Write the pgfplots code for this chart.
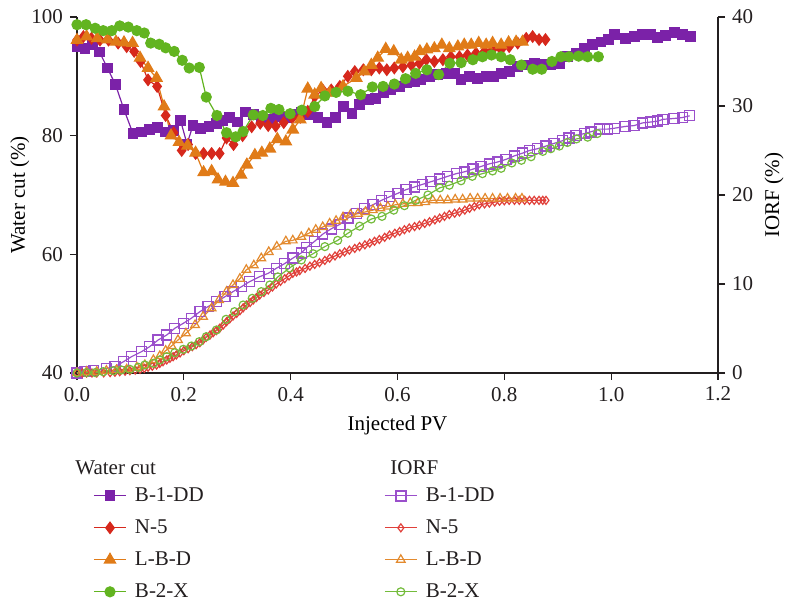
\documentclass[border=0pt]{standalone}
\usepackage{fontspec}
\setmainfont{Liberation Serif}
\usepackage{pgfplots}
\pgfplotsset{compat=1.18}
\definecolor{cpur}{HTML}{7B22A8}
\definecolor{cpurL}{HTML}{9A4FCB}
\definecolor{cred}{HTML}{D6281C}
\definecolor{credL}{HTML}{E0403A}
\definecolor{corg}{HTML}{E07B18}
\definecolor{corgL}{HTML}{E38A2E}
\definecolor{cgrn}{HTML}{62B420}
\definecolor{cgrnL}{HTML}{74BC3C}
\definecolor{ctxt}{HTML}{231F20}

\pgfplotstableread{
x y
0 95.0
0.015 94.7
0.029 95.4
0.042 94.1
0.057 91.4
0.072 88.6
0.088 84.4
0.105 80.3
0.121 80.6
0.135 81.0
0.150 81.4
0.165 80.6
0.180 80.9
0.194 82.5
0.206 78.6
0.217 81.7
0.231 81.2
0.247 81.6
0.261 82.1
0.273 82.6
0.286 83.1
0.300 82.3
0.315 84.0
0.330 83.6
0.345 83.0
0.360 82.8
0.375 83.2
0.390 83.0
0.405 83.5
0.420 84.0
0.435 83.6
0.451 83.0
0.468 82.2
0.484 83.1
0.499 84.9
0.515 83.8
0.529 85.2
0.545 86.1
0.559 86.3
0.574 87.2
0.588 87.7
0.604 88.3
0.617 88.9
0.632 89.1
0.644 89.4
0.660 90.0
0.675 90.3
0.691 90.5
0.707 90.5
0.719 89.4
0.735 90.0
0.750 89.7
0.766 90.0
0.779 90.0
0.794 90.5
0.809 90.8
0.825 91.6
0.841 91.9
0.856 92.2
0.872 92.0
0.887 91.9
0.903 92.2
0.918 93.3
0.934 93.9
0.950 94.7
0.965 95.4
0.981 95.8
0.995 96.2
1.006 97.0
1.027 96.4
1.043 96.7
1.059 97.1
1.074 97.0
1.087 96.6
1.102 96.9
1.118 97.4
1.133 97.1
1.149 96.7
}\wcA

\pgfplotstableread{
x y
0 96.1
0.012 96.7
0.027 96.4
0.043 96.1
0.059 96.1
0.077 95.6
0.093 95.0
0.107 94.2
0.119 92.5
0.133 89.4
0.150 88.3
0.166 83.4
0.181 80.5
0.196 77.5
0.208 78.5
0.222 77.0
0.237 77.0
0.252 77.0
0.267 77.0
0.280 79.6
0.293 78.5
0.310 80.0
0.327 81.5
0.343 82.1
0.358 81.7
0.372 81.6
0.387 82.2
0.403 83.0
0.418 83.1
0.432 84.1
0.445 86.6
0.460 87.7
0.476 87.7
0.492 88.3
0.507 90.0
0.520 90.8
0.536 91.1
0.551 91.1
0.566 91.4
0.580 91.1
0.594 91.4
0.610 91.6
0.626 91.9
0.641 92.2
0.654 92.8
0.669 92.5
0.685 92.8
0.700 93.3
0.716 93.3
0.731 93.6
0.747 93.9
0.763 94.2
0.778 94.5
0.794 94.5
0.809 95.0
0.825 95.6
0.841 96.4
0.853 96.7
0.865 96.2
0.877 96.2
}\wcB

\pgfplotstableread{
x y
0 96.1
0.018 96.7
0.038 96.4
0.057 96.2
0.073 95.8
0.088 95.7
0.104 95.6
0.118 93.1
0.133 91.4
0.149 89.7
0.163 84.9
0.176 80.0
0.191 78.9
0.207 78.3
0.222 77.1
0.237 73.8
0.252 74.0
0.264 72.6
0.278 72.2
0.292 72.0
0.307 73.4
0.318 75.1
0.333 76.7
0.346 77.1
0.361 77.8
0.375 79.4
0.391 79.0
0.404 81.0
0.418 82.7
0.432 87.9
0.445 86.9
0.457 88.0
0.473 87.2
0.498 88.3
0.523 89.7
0.538 90.8
0.551 91.9
0.563 93.1
0.578 94.6
0.593 94.2
0.607 92.8
0.619 93.1
0.632 93.3
0.642 94.2
0.655 94.5
0.669 94.7
0.683 95.3
0.697 94.7
0.713 95.0
0.725 95.3
0.738 95.3
0.752 95.6
0.766 95.3
0.778 95.6
0.794 95.3
0.808 95.7
0.822 95.8
0.834 95.8
}\wcC

\pgfplotstableread{
x y
0 98.7
0.017 98.7
0.034 98.1
0.049 97.7
0.065 97.7
0.080 98.5
0.096 98.3
0.112 97.7
0.126 97.3
0.138 95.6
0.154 95.4
0.166 94.8
0.182 94.2
0.197 92.7
0.210 91.4
0.229 91.5
0.242 86.5
0.262 83.4
0.280 80.5
0.297 79.8
0.311 80.7
0.330 83.5
0.348 83.4
0.363 84.6
0.378 84.4
0.399 83.7
0.421 84.3
0.445 84.9
0.464 86.7
0.485 87.3
0.507 87.5
0.531 86.9
0.553 88.2
0.573 88.3
0.594 88.7
0.615 89.6
0.634 90.5
0.655 91.1
0.677 90.3
0.698 92.2
0.719 92.3
0.741 92.8
0.759 93.3
0.776 93.6
0.794 93.3
0.811 92.8
0.832 91.9
0.853 91.2
0.870 91.2
0.889 92.5
0.906 93.3
0.921 93.3
0.939 93.4
0.956 93.3
0.976 93.3
}\wcD

\pgfplotstableread{
x y
0 0.0
0.015 0.15
0.031 0.26
0.055 0.52
0.071 0.71
0.087 1.27
0.102 1.83
0.121 2.40
0.136 2.96
0.152 3.71
0.168 4.27
0.183 5.02
0.199 5.58
0.214 6.15
0.230 6.89
0.245 7.45
0.261 8.01
0.277 8.57
0.292 9.14
0.308 9.70
0.323 10.26
0.342 10.82
0.358 11.2
0.373 11.76
0.389 12.3
0.404 12.9
0.420 13.5
0.430 14.1
0.445 14.8
0.460 15.6
0.476 16.2
0.492 16.7
0.507 17.4
0.523 17.9
0.538 18.5
0.554 18.9
0.570 19.4
0.585 19.8
0.601 20.2
0.616 20.6
0.632 20.9
0.647 21.2
0.663 21.5
0.679 21.8
0.694 22.1
0.710 22.4
0.725 22.6
0.741 22.9
0.756 23.2
0.772 23.5
0.787 23.7
0.803 24.0
0.819 24.4
0.834 24.7
0.847 25.0
0.862 25.2
0.878 25.5
0.893 25.8
0.909 26.1
0.921 26.4
0.934 26.7
0.950 26.9
0.962 27.1
0.978 27.4
0.993 27.4
1.006 27.5
1.026 27.7
1.043 27.8
1.059 28.1
1.074 28.2
1.087 28.3
1.097 28.5
1.118 28.6
1.133 28.7
1.147 28.9
}\ioA

\pgfplotstableread{
x y
0 0.0
0.010 0.0
0.018 0.0
0.028 0.0
0.037 0.0
0.050 0.02
0.062 0.04
0.071 0.09
0.080 0.15
0.090 0.20
0.099 0.26
0.109 0.33
0.118 0.41
0.126 0.52
0.133 0.64
0.141 0.76
0.149 0.90
0.155 1.08
0.161 1.27
0.168 1.46
0.174 1.65
0.180 1.83
0.186 2.02
0.193 2.26
0.200 2.51
0.208 2.73
0.216 2.96
0.223 3.18
0.230 3.41
0.236 3.70
0.242 4.01
0.249 4.27
0.255 4.53
0.261 4.77
0.267 5.02
0.274 5.40
0.280 5.76
0.286 6.08
0.292 6.40
0.299 6.70
0.305 7.00
0.311 7.32
0.317 7.64
0.324 7.92
0.330 8.20
0.336 8.48
0.342 8.76
0.350 9.05
0.358 9.33
0.366 9.67
0.373 10.0
0.381 10.3
0.389 10.6
0.397 10.9
0.404 11.2
0.411 11.35
0.417 11.5
0.427 11.75
0.436 12.0
0.445 12.2
0.454 12.4
0.464 12.65
0.473 12.9
0.483 13.15
0.492 13.4
0.501 13.6
0.510 13.8
0.520 14.0
0.529 14.2
0.539 14.4
0.548 14.6
0.557 14.8
0.566 15.0
0.576 15.25
0.585 15.5
0.595 15.7
0.604 15.9
0.613 16.1
0.622 16.3
0.632 16.45
0.641 16.6
0.651 16.8
0.660 17.0
0.670 17.2
0.679 17.4
0.688 17.6
0.697 17.8
0.707 17.95
0.716 18.1
0.726 18.3
0.735 18.5
0.744 18.7
0.753 18.9
0.763 19.0
0.772 19.1
0.782 19.2
0.791 19.3
0.800 19.35
0.809 19.4
0.819 19.4
0.828 19.4
0.838 19.4
0.847 19.4
0.856 19.4
0.865 19.4
0.872 19.4
0.878 19.4
}\ioB

\pgfplotstableread{
x y
0 0.0
0.018 0.15
0.037 0.15
0.055 0.26
0.074 0.34
0.093 0.41
0.112 0.64
0.127 0.90
0.143 1.46
0.155 1.91
0.166 2.51
0.177 3.03
0.189 3.71
0.204 4.46
0.221 5.39
0.236 6.33
0.252 7.27
0.266 8.20
0.280 9.14
0.292 9.89
0.305 10.6
0.317 11.6
0.331 12.1
0.345 12.9
0.359 13.6
0.374 14.2
0.391 14.8
0.404 14.9
0.420 15.3
0.434 15.7
0.447 16.1
0.460 16.4
0.473 16.8
0.485 17.1
0.498 17.5
0.512 17.8
0.526 17.9
0.540 18.1
0.554 18.3
0.568 18.5
0.582 18.7
0.596 18.9
0.610 19.0
0.624 19.1
0.638 19.1
0.652 19.2
0.666 19.4
0.680 19.4
0.694 19.4
0.708 19.5
0.722 19.5
0.736 19.6
0.750 19.6
0.764 19.6
0.778 19.6
0.792 19.6
0.806 19.6
0.821 19.6
0.833 19.6
}\ioC

\pgfplotstableread{
x y
0 0.0
0.018 0.04
0.034 0.04
0.049 0.15
0.068 0.26
0.083 0.34
0.099 0.41
0.115 0.64
0.127 0.90
0.143 1.09
0.155 1.46
0.168 1.83
0.183 2.28
0.199 2.66
0.214 3.03
0.229 3.52
0.242 4.08
0.261 4.83
0.279 6.03
0.295 6.89
0.311 7.64
0.328 8.39
0.345 9.14
0.361 9.89
0.376 10.8
0.398 11.8
0.420 12.7
0.442 13.4
0.464 14.2
0.488 14.9
0.507 15.7
0.529 16.5
0.551 17.3
0.571 17.6
0.593 18.3
0.613 18.8
0.634 19.4
0.657 20.0
0.679 20.8
0.697 21.1
0.719 21.6
0.740 22.1
0.759 22.4
0.778 22.7
0.794 23.0
0.814 23.6
0.832 23.9
0.850 24.3
0.872 24.9
0.887 25.2
0.903 25.5
0.918 25.9
0.935 26.3
0.956 26.5
0.974 26.9
}\ioD

\pgfplotsset{
  wcA/.style={color=cpur, line width=0.6pt, mark=square*, mark size=2.4pt, mark options={solid}},
  wcB/.style={color=cred, line width=0.6pt, mark=diamond*, mark size=2.8pt, mark options={solid}},
  wcC/.style={color=corg, line width=0.6pt, mark=triangle*, mark size=3.2pt, mark options={solid}},
  wcD/.style={color=cgrn, line width=0.6pt, mark=*, mark size=2.5pt, mark options={solid}},
  ioA/.style={color=cpurL, line width=0.6pt, mark=square, mark size=2.5pt, mark options={solid, line width=0.7pt}},
  ioB/.style={color=credL, line width=0.6pt, mark=diamond, mark size=2.0pt, mark options={solid, line width=0.6pt}},
  ioC/.style={color=corgL, line width=0.6pt, mark=triangle, mark size=2.5pt, mark options={solid, line width=0.6pt}},
  ioD/.style={color=cgrnL, line width=0.6pt, mark=o, mark size=2.0pt, mark options={solid, line width=0.6pt}},
  common/.style={
    at={(0,0)}, anchor=south west,
    scale only axis, width=320.5pt, height=178pt,
    xmin=0, xmax=1.2,
    clip=false,
    font=\fontsize{10.5}{12}\selectfont,
    /pgf/number format/assume math mode=true,
    tick align=outside, major tick length=3.5pt,
    every tick/.style={ctxt, line width=0.6pt},
    axis line style={ctxt, line width=0.6pt},
    tick label style={ctxt},
    label style={ctxt},
  },
}

\begin{document}
\begin{tikzpicture}
\useasboundingbox (-38.5pt,-115pt) rectangle (355.5pt,186.5pt);
\begin{axis}[common,
  ymin=40, ymax=100,
  axis x line*=bottom, axis y line*=left,
  xtick={0,0.2,0.4,0.6,0.8,1.0,1.2},
  xticklabel style={/pgf/number format/.cd, fixed, fixed zerofill, precision=1},
  ytick={40,60,80,100},
  xlabel={Injected PV},
  ylabel={Water cut (\%)},
  every axis x label/.style={at={(axis description cs:0.5,-0.146)}, anchor=center},
  every axis y label/.style={at={(axis description cs:-0.089,0.5)}, rotate=90, anchor=center},
]
\addplot[wcA] table {\wcA};
\addplot[wcB] table {\wcB};
\addplot[wcC] table {\wcC};
\addplot[wcD] table {\wcD};
\end{axis}
\begin{axis}[common,
  ymin=0, ymax=40,
  axis x line=none, axis y line*=right,
  ytick={0,10,20,30,40},
  ylabel={IORF (\%)},
  every axis y label/.style={at={(axis description cs:1.0874,0.5)}, rotate=90, anchor=center},
  legend columns=2,
  legend cell align=left,
  legend image code/.code={\draw[mark repeat=2,mark phase=2,#1] plot coordinates {(0pt,0pt)(8pt,0pt)(16pt,0pt)};},
  legend style={at={(axis description cs:0,0)}, anchor=north west, xshift=5pt, yshift=-53pt,
    draw=none, fill=none, text=ctxt, font=\fontsize{10.5}{12}\selectfont,
    row sep=3.6pt,
    /tikz/every odd column/.append style={column sep=2.2pt},
    /tikz/every even column/.append style={column sep=88.2pt}},
]
\addplot[ioA, forget plot] table {\ioA};
\addplot[ioB, forget plot] table {\ioB};
\addplot[ioC, forget plot] table {\ioC};
\addplot[ioD, forget plot] table {\ioD};
\addlegendimage{wcA}\addlegendentry{B-1-DD}
\addlegendimage{ioA}\addlegendentry{B-1-DD}
\addlegendimage{wcB}\addlegendentry{N-5}
\addlegendimage{ioB}\addlegendentry{N-5}
\addlegendimage{wcC}\addlegendentry{L-B-D}
\addlegendimage{ioC}\addlegendentry{L-B-D}
\addlegendimage{wcD}\addlegendentry{B-2-X}
\addlegendimage{ioD}\addlegendentry{B-2-X}
\node[anchor=west, text=ctxt, inner sep=0pt] at (axis description cs:0,0) [xshift=-1pt, yshift=-47.5pt] {Water cut};
\node[anchor=west, text=ctxt, inner sep=0pt] at (axis description cs:0,0) [xshift=156.5pt, yshift=-47.5pt] {IORF};
\end{axis}
\end{tikzpicture}
\end{document}
